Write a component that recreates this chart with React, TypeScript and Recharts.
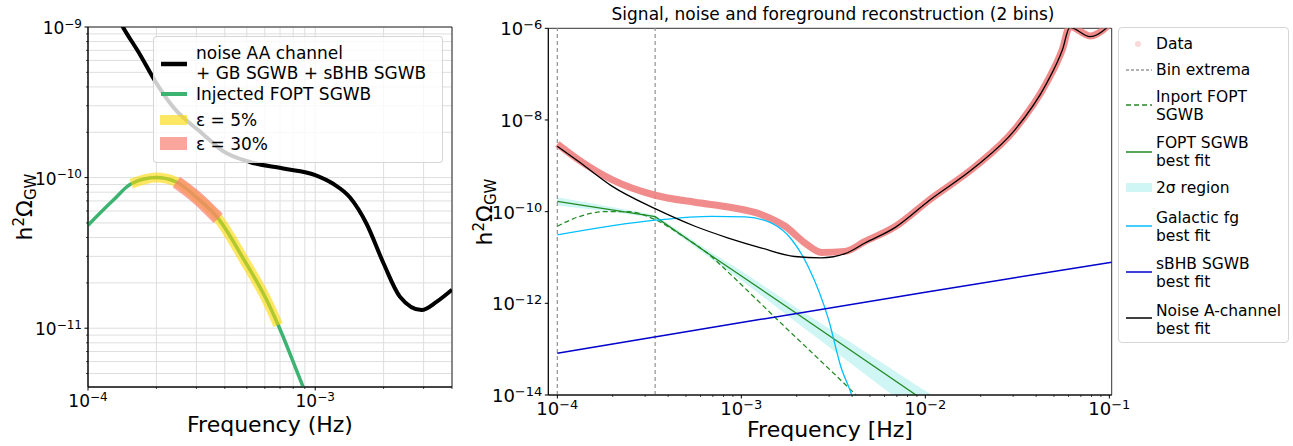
import React from 'react';
import {
  ComposedChart,
  Line,
  Area,
  XAxis,
  YAxis,
  CartesianGrid,
  ReferenceLine,
  ReferenceArea,
} from 'recharts';

const FONT = '"DejaVu Sans", Verdana, sans-serif';

// ---------- left panel: injected FOPT signal vs noise ----------
const leftNoiseFreq = [1.25e-4, 1.43e-4, 1.69e-4, 1.97e-4, 2.37e-4, 3.2e-4, 3.93e-4, 5.15e-4, 7.23e-4, 1e-3, 1.2e-3, 1.42e-3, 1.68e-3, 2.0e-3, 2.36e-3, 2.94e-3, 3.43e-3, 4.0e-3];
const leftNoiseVal = [1.45e-9, 9.9e-10, 6.6e-10, 4.4e-10, 2.94e-10, 1.95e-10, 1.5e-10, 1.27e-10, 1.15e-10, 1.04e-10, 9.1e-11, 7.4e-11, 4.96e-11, 2.69e-11, 1.62e-11, 1.32e-11, 1.5e-11, 1.8e-11];
const leftFoptFreq = [1e-4, 1.29e-4, 1.55e-4, 2.0e-4, 2.45e-4, 3.0e-4, 3.74e-4, 4.87e-4, 6.1e-4, 6.87e-4, 8.85e-4, 1.0e-3];
const leftFoptVal = [4.83e-11, 7.07e-11, 9.1e-11, 1.0e-10, 9.35e-11, 7.4e-11, 5.36e-11, 2.83e-11, 1.55e-11, 1.05e-11, 4.07e-12, 2.6e-12];
const eps5Range = [1.55e-4, 6.87e-4];
const eps30Range = [2.45e-4, 3.74e-4];
const leftXDomain = [1e-4, 4e-3];
const leftYDomain = [4.07e-12, 1e-9];
const leftXTicks = [1e-4, 2e-4, 3e-4, 4e-4, 5e-4, 6e-4, 7e-4, 8e-4, 9e-4, 1e-3, 2e-3, 3e-3, 4e-3];
const leftYTicks = [5e-12, 6e-12, 7e-12, 8e-12, 9e-12, 1e-11, 2e-11, 3e-11, 4e-11, 5e-11, 6e-11, 7e-11, 8e-11, 9e-11, 1e-10, 2e-10, 3e-10, 4e-10, 5e-10, 6e-10, 7e-10, 8e-10, 9e-10, 1e-9];

// ---------- right panel: reconstruction ----------
const dataFreq = [1e-4, 1.3e-4, 1.98e-4, 3.4e-4, 5.6e-4, 8.5e-4, 1.29e-3, 1.73e-3, 2.22e-3, 2.73e-3, 3.66e-3, 4.7e-3, 6.9e-3, 1.05e-2, 1.87e-2, 3.06e-2, 4.56e-2, 5.56e-2, 6.1e-2, 7.86e-2, 9.6e-2, 1.03e-1];
const dataVal = [3.0e-9, 1.37e-9, 5.0e-10, 2.28e-10, 1.6e-10, 1.26e-10, 8.6e-11, 4.8e-11, 2.07e-11, 1.29e-11, 1.36e-11, 2.24e-11, 4.8e-11, 1.8e-10, 9.7e-10, 6.2e-9, 6.5e-8, 3.5e-7, 1.1e-6, 6.8e-7, 1.05e-6, 1.4e-6];
const noiseFreq = [1e-4, 1.3e-4, 1.98e-4, 3.4e-4, 5.6e-4, 8.5e-4, 1.29e-3, 1.95e-3, 2.73e-3, 3.66e-3, 4.7e-3, 6.9e-3, 1.05e-2, 1.87e-2, 3.06e-2, 4.56e-2, 5.56e-2, 6.1e-2, 7.86e-2, 9.6e-2, 1.03e-1];
const noiseVal = [2.67e-9, 1.26e-9, 3.6e-10, 1.16e-10, 4.8e-11, 2.66e-11, 1.61e-11, 1.05e-11, 9.8e-12, 1.21e-11, 2.07e-11, 4.6e-11, 1.75e-10, 9.5e-10, 6.0e-9, 6.3e-8, 3.4e-7, 1.05e-6, 6.6e-7, 1.0e-6, 1.35e-6];
const galFreq = [1e-4, 3.4e-4, 6.9e-4, 1.05e-3, 1.46e-3, 1.88e-3, 2.31e-3, 2.98e-3, 3.47e-3, 3.98e-3, 4.2e-3];
const galVal = [3.1e-11, 6.5e-11, 7.9e-11, 7.7e-11, 5.6e-11, 2.44e-11, 6.3e-12, 4.4e-13, 4.2e-14, 1e-14, 5e-15];
const sbhbFreq = [1e-4, 1e-3, 1e-2, 1.03e-1];
const sbhbVal = [8.1e-14, 3.8e-13, 1.75e-12, 7.9e-12];
const fitFreq = [1e-4, 3.4e-4, 6.75e-4, 2.0e-3, 8.9e-3, 1.2e-2];
const fitVal = [1.68e-10, 7.8e-11, 1.15e-11, 6.0e-13, 1.0e-14, 4.5e-15];
const injFreq = [1e-4, 1.3e-4, 1.81e-4, 2.43e-4, 3.4e-4, 4.87e-4, 6.87e-4, 8.85e-4, 1.57e-3, 4.2e-3, 5e-3];
const injVal = [4.8e-11, 7.7e-11, 1.0e-10, 1.0e-10, 6.7e-11, 2.83e-11, 1.05e-11, 4.07e-12, 4.4e-13, 1.0e-14, 5e-15];
const bandFreq = [1e-4, 2e-4, 3.4e-4, 6.75e-4, 1e-3, 2e-3, 4e-3, 8.9e-3, 1.2e-2];
const bandLow = [1.36e-10, 9.8e-11, 7.3e-11, 9.8e-12, 3.2e-12, 3.8e-13, 4.6e-14, 4.1e-15, 1.66e-15];
const bandHigh = [2.07e-10, 1.25e-10, 8.4e-11, 1.35e-11, 5.1e-12, 7.9e-13, 1.35e-13, 1.66e-14, 7.8e-15];
const binEdges = [1e-4, 3.4e-4];
const rightXDomain = [8.93e-5, 1.03e-1];
const rightYDomain = [1e-14, 1e-6];
const rightXTicks = [
  1e-4, 2e-4, 3e-4, 4e-4, 5e-4, 6e-4, 7e-4, 8e-4, 9e-4,
  1e-3, 2e-3, 3e-3, 4e-3, 5e-3, 6e-3, 7e-3, 8e-3, 9e-3,
  1e-2, 2e-2, 3e-2, 4e-2, 5e-2, 6e-2, 7e-2, 8e-2, 9e-2, 1e-1,
];
const rightYTicks = [1e-14, 1e-12, 1e-10, 1e-8, 1e-6];

const pts = (f: number[], v: number[]) => f.map((x, i) => ({ f: x, v: v[i] }));
const within = (r: number[]) => (p: { f: number }) => p.f >= r[0] * 0.999 && p.f <= r[1] * 1.001;

const isMajor = (v: number) => Math.abs(Math.log10(v) - Math.round(Math.log10(v))) < 1e-6;
const expText = (v: number) => {
  const e = Math.round(Math.log10(v));
  return e < 0 ? '\u2212' + -e : String(e);
};

function XTick(props: any) {
  const { x, y, payload, fs, sfs } = props;
  const major = isMajor(payload.value);
  return (
    <g>
      <line x1={x} x2={x} y1={y} y2={y + (major ? 3.5 : 2)} stroke="#000" strokeWidth={major ? 1 : 0.7} />
      {major && (
        <text x={x} y={y + 20} textAnchor="middle" fontSize={fs} fontFamily={FONT} fill="#000">
          10<tspan dy={-6.5} fontSize={sfs}>{expText(payload.value)}</tspan>
        </text>
      )}
    </g>
  );
}

function YTick(props: any) {
  const { x, y, payload, fs, sfs } = props;
  const major = isMajor(payload.value);
  return (
    <g>
      <line x1={x} x2={x - (major ? 3.5 : 2)} y1={y} y2={y} stroke="#000" strokeWidth={major ? 1 : 0.7} />
      {major && (
        <text x={x - 6} y={y + 7} textAnchor="end" fontSize={fs} fontFamily={FONT} fill="#000">
          10<tspan dy={-6.5} fontSize={sfs}>{expText(payload.value)}</tspan>
        </text>
      )}
    </g>
  );
}

function LeftPanel() {
  const fopt = pts(leftFoptFreq, leftFoptVal);
  return (
    <ComposedChart width={460} height={446} margin={{ top: 27, right: 8, bottom: 29, left: 28 }}>
      <CartesianGrid stroke="#dedede" strokeWidth={1} />
      <XAxis
        dataKey="f"
        type="number"
        scale="log"
        domain={leftXDomain}
        allowDataOverflow
        ticks={leftXTicks}
        interval={0}
        tickSize={0}
        tickMargin={0}
        tickLine={false}
        stroke="#000"
        tick={(p: any) => <XTick {...p} fs={17} sfs={12} />}
      />
      <YAxis
        type="number"
        scale="log"
        domain={leftYDomain}
        allowDataOverflow
        ticks={leftYTicks}
        interval={0}
        tickSize={0}
        tickMargin={0}
        tickLine={false}
        stroke="#000"
        tick={(p: any) => <YTick {...p} fs={17} sfs={12} />}
      />
      <Line data={pts(leftNoiseFreq, leftNoiseVal)} dataKey="v" type="monotone" stroke="#000" strokeWidth={4} dot={false} activeDot={false} isAnimationActive={false} />
      <Line data={fopt} dataKey="v" type="monotone" stroke="#3cb371" strokeWidth={3.5} dot={false} activeDot={false} isAnimationActive={false} />
      <Line data={fopt.filter(within(eps5Range))} dataKey="v" type="monotone" stroke="#ffd700" strokeOpacity={0.6} strokeWidth={10} dot={false} activeDot={false} isAnimationActive={false} />
      <Line data={fopt.filter(within(eps30Range))} dataKey="v" type="monotone" stroke="#fa8072" strokeOpacity={0.7} strokeWidth={13} dot={false} activeDot={false} isAnimationActive={false} />
      <ReferenceArea x1={leftXDomain[0]} x2={leftXDomain[1]} y1={leftYDomain[0]} y2={leftYDomain[1]} fill="none" stroke="#222" strokeWidth={1} ifOverflow="visible" />
    </ComposedChart>
  );
}

function RightPanel() {
  const band = bandFreq.map((f, i) => ({ f, band: [bandLow[i], bandHigh[i]] }));
  return (
    <ComposedChart width={833} height={446} data={band} margin={{ top: 28.3, right: 181.3, bottom: 21, left: 28.3 }}>
      <XAxis
        dataKey="f"
        type="number"
        scale="log"
        domain={rightXDomain}
        allowDataOverflow
        ticks={rightXTicks}
        interval={0}
        tickSize={0}
        tickMargin={0}
        tickLine={false}
        stroke="#000"
        tick={(p: any) => <XTick {...p} fs={18} sfs={13} />}
      />
      <YAxis
        type="number"
        scale="log"
        domain={rightYDomain}
        allowDataOverflow
        ticks={rightYTicks}
        interval={0}
        tickSize={0}
        tickMargin={0}
        tickLine={false}
        stroke="#000"
        tick={(p: any) => <YTick {...p} fs={18} sfs={13} />}
      />
      {binEdges.map((b) => (
        <ReferenceLine key={b} x={b} stroke="#999" strokeWidth={1.3} strokeDasharray="4 3" />
      ))}
      <Area dataKey="band" type="linear" stroke="none" fill="#afeeee" fillOpacity={0.6} isAnimationActive={false} activeDot={false} />
      <Line data={pts(dataFreq, dataVal)} dataKey="v" type="monotone" stroke="#f08080" strokeOpacity={0.9} strokeWidth={7} dot={false} activeDot={false} isAnimationActive={false} />
      <Line data={pts(injFreq, injVal)} dataKey="v" type="monotone" stroke="#228b22" strokeWidth={1.3} strokeDasharray="5 3" dot={false} activeDot={false} isAnimationActive={false} />
      <Line data={pts(fitFreq, fitVal)} dataKey="v" type="linear" stroke="#228b22" strokeWidth={1.3} dot={false} activeDot={false} isAnimationActive={false} />
      <Line data={pts(galFreq, galVal)} dataKey="v" type="monotone" stroke="#00bfff" strokeWidth={1.3} dot={false} activeDot={false} isAnimationActive={false} />
      <Line data={pts(sbhbFreq, sbhbVal)} dataKey="v" type="linear" stroke="#0000cd" strokeWidth={1.5} dot={false} activeDot={false} isAnimationActive={false} />
      <Line data={pts(noiseFreq, noiseVal)} dataKey="v" type="monotone" stroke="#000" strokeWidth={1.3} dot={false} activeDot={false} isAnimationActive={false} />
      <ReferenceArea x1={rightXDomain[0]} x2={rightXDomain[1]} y1={rightYDomain[0]} y2={rightYDomain[1]} fill="none" stroke="#333" strokeWidth={1} ifOverflow="visible" />
    </ComposedChart>
  );
}

function YLabel({ x, y }: { x: number; y: number }) {
  return (
    <text transform={`translate(${x},${y}) rotate(-90)`} textAnchor="middle" fontSize={22} fontFamily={FONT} fill="#000">
      h<tspan dy={-8} fontSize={15}>2</tspan>
      <tspan dy={8}>Ω</tspan>
      <tspan dy={4} fontSize={15}>GW</tspan>
    </text>
  );
}

function LegendLine({ top, color, width, dash }: { top: number; color: string; width: number; dash?: string }) {
  return (
    <svg style={{ position: 'absolute', left: 6, top: top - 8, overflow: 'visible' }} width={28} height={16}>
      <line x1={1} x2={27} y1={8} y2={8} stroke={color} strokeWidth={width} strokeDasharray={dash} />
    </svg>
  );
}

function LegendText({ top, left, lines, fs }: { top: number; left: number; lines: string[]; fs: number }) {
  return (
    <>
      {lines.map((l, i) => (
        <div key={i} style={{ position: 'absolute', left, top: top + i * 18.3 - 10, lineHeight: '20px', fontSize: fs, whiteSpace: 'nowrap' }}>
          {l}
        </div>
      ))}
    </>
  );
}

function LeftLegend() {
  return (
    <div
      style={{
        position: 'absolute', left: 153, top: 36, width: 288, height: 125,
        background: 'rgba(255,255,255,0.8)', border: '1px solid rgba(204,204,204,0.8)', borderRadius: 4,
        fontFamily: FONT, color: '#000',
      }}
    >
      <LegendLine top={26.5} color="#000" width={4.5} />
      <LegendText top={15.5} left={42} lines={['noise AA channel']} fs={17} />
      <LegendText top={35.5} left={42} lines={['+ GB SGWB + sBHB SGWB']} fs={17} />
      <LegendLine top={57} color="#3cb371" width={4} />
      <LegendText top={57} left={42} lines={['Injected FOPT SGWB']} fs={17} />
      <svg style={{ position: 'absolute', left: 6, top: 78 }} width={28} height={10}>
        <rect x={0} y={0} width={27} height={10} fill="#ffd700" fillOpacity={0.6} />
      </svg>
      <LegendText top={83} left={42} lines={['ε = 5%']} fs={17} />
      <svg style={{ position: 'absolute', left: 6, top: 100 }} width={28} height={13}>
        <rect x={0} y={0} width={27} height={13} fill="#fa8072" fillOpacity={0.7} />
      </svg>
      <LegendText top={107} left={42} lines={['ε = 30%']} fs={17} />
    </div>
  );
}

function RightLegend() {
  return (
    <div
      style={{
        position: 'absolute', left: 1118, top: 27, width: 169, height: 314,
        background: '#fff', border: '1px solid #d6d6d6', borderRadius: 4,
        fontFamily: FONT, color: '#000',
      }}
    >
      <svg style={{ position: 'absolute', left: 15, top: 12 }} width={8} height={8}>
        <circle cx={4} cy={4} r={3} fill="#f08080" fillOpacity={0.3} />
      </svg>
      <LegendText top={15.5} left={37} lines={['Data']} fs={15.5} />
      <LegendLine top={42} color="#999" width={1.3} dash="3 2" />
      <LegendText top={42} left={37} lines={['Bin extrema']} fs={15.5} />
      <LegendLine top={77} color="#228b22" width={1.5} dash="5 3" />
      <LegendText top={69} left={37} lines={['Inport FOPT', 'SGWB']} fs={15.5} />
      <LegendLine top={123.5} color="#228b22" width={1.5} />
      <LegendText top={115} left={37} lines={['FOPT SGWB', 'best fit']} fs={15.5} />
      <svg style={{ position: 'absolute', left: 6, top: 155 }} width={28} height={10}>
        <rect x={1} y={0} width={26} height={9} fill="#afeeee" fillOpacity={0.6} />
      </svg>
      <LegendText top={159.5} left={37} lines={['2σ region']} fs={15.5} />
      <LegendLine top={198} color="#00bfff" width={1.5} />
      <LegendText top={189.5} left={37} lines={['Galactic fg', 'best fit']} fs={15.5} />
      <LegendLine top={243.5} color="#0000cd" width={1.5} />
      <LegendText top={235.5} left={37} lines={['sBHB SGWB', 'best fit']} fs={15.5} />
      <LegendLine top={289.5} color="#000" width={1.5} />
      <LegendText top={282.5} left={37} lines={['Noise A-channel', 'best fit']} fs={15.5} />
    </div>
  );
}

export default function App() {
  return (
    <div style={{ position: 'absolute', left: 0, top: 0, width: 1293, height: 446, background: '#fff', overflow: 'hidden' }}>
      <div style={{ position: 'absolute', left: 0, top: 0 }}>
        <LeftPanel />
      </div>
      <div style={{ position: 'absolute', left: 460, top: 0 }}>
        <RightPanel />
      </div>
      <svg style={{ position: 'absolute', left: 0, top: 0, pointerEvents: 'none' }} width={1293} height={446}>
        <text x={270} y={432} textAnchor="middle" fontSize={22} fontFamily={FONT} fill="#000">Frequency (Hz)</text>
        <text x={830} y={437} textAnchor="middle" fontSize={22} fontFamily={FONT} fill="#000">Frequency [Hz]</text>
        <text x={833} y={20} textAnchor="middle" fontSize={17} fontFamily={FONT} fill="#000">
          Signal, noise and foreground reconstruction (2 bins)
        </text>
        <YLabel x={32} y={207} />
        <YLabel x={492} y={212} />
      </svg>
      <LeftLegend />
      <RightLegend />
    </div>
  );
}
